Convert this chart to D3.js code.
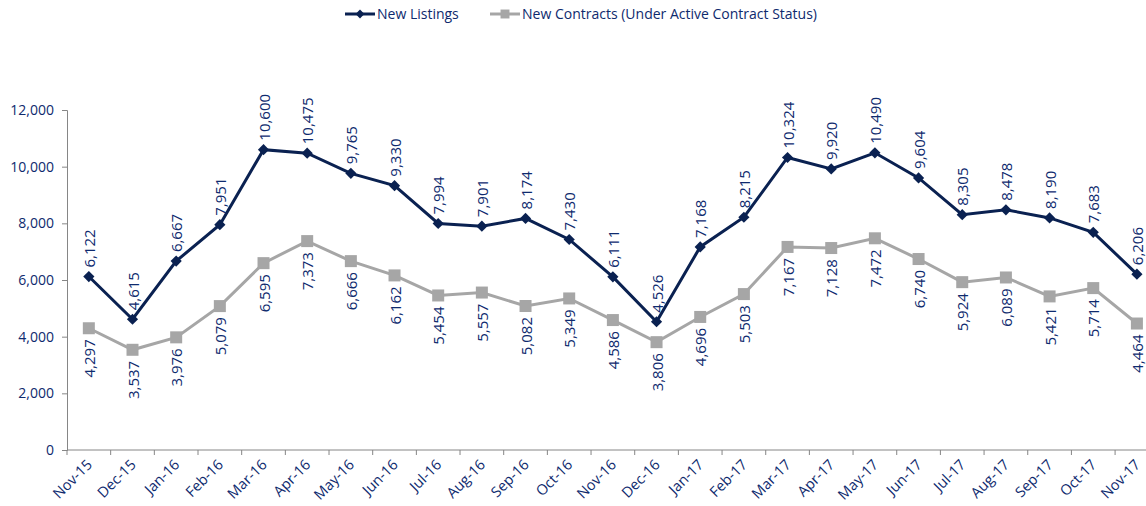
<!DOCTYPE html>
<html>
<head>
<meta charset="utf-8">
<script src="https://cdn.jsdelivr.net/npm/d3@7"></script>
<style>
  body { margin: 0; background: #fff; }
  text { font-family: "Open Sans", sans-serif; fill: #0e2a6e; }
</style>
</head>
<body>
<div id="chart"></div>
<script>
// Data
const months = ["Nov-15","Dec-15","Jan-16","Feb-16","Mar-16","Apr-16","May-16","Jun-16","Jul-16","Aug-16","Sep-16","Oct-16","Nov-16","Dec-16","Jan-17","Feb-17","Mar-17","Apr-17","May-17","Jun-17","Jul-17","Aug-17","Sep-17","Oct-17","Nov-17"];
const newListings = [6122,4615,6667,7951,10600,10475,9765,9330,7994,7901,8174,7430,6111,4526,7168,8215,10324,9920,10490,9604,8305,8478,8190,7683,6206];
const newContracts = [4297,3537,3976,5079,6595,7373,6666,6162,5454,5557,5082,5349,4586,3806,4696,5503,7167,7128,7472,6740,5924,6089,5421,5714,4464];
const yTicks = [0,2000,4000,6000,8000,10000,12000];

const W = 1146, H = 506;
const plotLeft = 67, plotTop = 110, plotBottom = 450;
const step = 43.67;

const svg = d3.select("#chart").append("svg")
    .attr("width", W)
    .attr("height", H);

const x = d3.scaleBand()
    .domain(months)
    .range([plotLeft, plotLeft + step * months.length]);

const y = d3.scaleLinear()
    .domain([0, 12000])
    .range([plotBottom, plotTop]);

const fmt = d3.format(",");
const dark = "#0a2151", grey = "#a6a6a6", axisCol = "#868686";

// Axes
const yAxis = svg.append("g")
    .attr("transform", "translate(" + plotLeft + ",0)")
    .call(d3.axisLeft(y).tickValues(yTicks).tickFormat(fmt).tickSize(5).tickPadding(8));
yAxis.select(".domain").attr("stroke", axisCol);
yAxis.selectAll(".tick line").attr("stroke", axisCol);
yAxis.selectAll("text").style("font-size", "14px").attr("fill", "#0e2a6e");

const xAxis = svg.append("g")
    .attr("transform", "translate(0," + plotBottom + ")")
    .call(d3.axisBottom(x).tickSize(0).tickFormat(d => d));
xAxis.select(".domain").attr("stroke", axisCol).attr("d", "M" + plotLeft + ",0H" + (plotLeft + step * months.length));
xAxis.selectAll(".tick line").remove();
xAxis.selectAll(".tick text")
    .style("font-size", "14.5px")
    .attr("fill", "#0e2a6e")
    .attr("text-anchor", "end")
    .attr("dx", "-8")
    .attr("dy", "11")
    .attr("transform", "rotate(-45)");

// category boundary ticks
svg.append("g").selectAll("line")
    .data(d3.range(months.length + 1))
  .enter().append("line")
    .attr("x1", i => plotLeft + i * step)
    .attr("x2", i => plotLeft + i * step)
    .attr("y1", plotBottom)
    .attr("y2", plotBottom + 5)
    .attr("stroke", axisCol);

const cx = d => x(d) + x.bandwidth() / 2;

const line = d3.line()
    .x((d, i) => cx(months[i]))
    .y(d => y(d));

// New Contracts
svg.append("path")
    .datum(newContracts)
    .attr("fill", "none")
    .attr("stroke", grey)
    .attr("stroke-width", 3)
    .attr("d", line);

svg.selectAll(".sq")
    .data(newContracts)
  .enter().append("rect")
    .attr("x", (d, i) => cx(months[i]) - 6)
    .attr("y", d => y(d) - 6)
    .attr("width", 12)
    .attr("height", 12)
    .attr("fill", grey);

// New Listings
svg.append("path")
    .datum(newListings)
    .attr("fill", "none")
    .attr("stroke", dark)
    .attr("stroke-width", 3)
    .attr("d", line);

const diamond = d3.symbol().type(d3.symbolDiamond2).size(80);
svg.selectAll(".dm")
    .data(newListings)
  .enter().append("path")
    .attr("d", diamond)
    .attr("transform", (d, i) => "translate(" + cx(months[i]) + "," + y(d) + ")")
    .attr("fill", dark);

// Labels
svg.selectAll(".lblL")
    .data(newListings)
  .enter().append("text")
    .attr("transform", (d, i) => "translate(" + (cx(months[i]) + 6) + "," + (y(d) - 9) + ") rotate(-90)")
    .attr("text-anchor", "start")
    .style("font-size", "15px")
    .text(d => fmt(d));

svg.selectAll(".lblC")
    .data(newContracts)
  .enter().append("text")
    .attr("transform", (d, i) => "translate(" + (cx(months[i]) + 6) + "," + (y(d) + 11) + ") rotate(-90)")
    .attr("text-anchor", "end")
    .style("font-size", "15px")
    .text(d => fmt(d));

// Legend
const legend = [
  {name: "New Listings", color: dark, x: 345},
  {name: "New Contracts (Under Active Contract Status)", color: grey, x: 490}
];
const lg = svg.selectAll(".legend")
    .data(legend)
  .enter().append("g")
    .attr("transform", d => "translate(" + d.x + ",14)");
lg.append("line")
    .attr("x1", 0).attr("x2", 30)
    .attr("stroke", d => d.color)
    .attr("stroke-width", 3);
lg.append("path")
    .attr("d", (d, i) => i === 0 ? d3.symbol().type(d3.symbolDiamond2).size(50)() : d3.symbol().type(d3.symbolSquare).size(80)())
    .attr("transform", "translate(15,0)")
    .attr("fill", d => d.color);
lg.append("text")
    .attr("x", 32)
    .attr("dy", "0.35em")
    .style("font-size", "14px")
    .text(d => d.name);
</script>
</body>
</html>
